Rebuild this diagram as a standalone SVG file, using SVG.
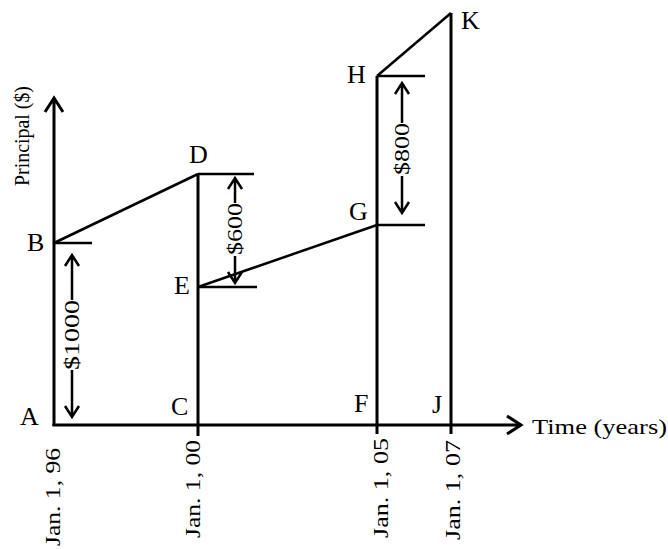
<svg xmlns="http://www.w3.org/2000/svg" width="668" height="549" viewBox="0 0 668 549">
<style>
.ax{stroke:#000;stroke-width:3;fill:none;stroke-linecap:butt}
.ln{stroke:#000;stroke-width:2.5;fill:none}
.ar{stroke:#000;stroke-width:2.5;fill:none}
.lbl{font-size:26px;fill:#000;font-weight:normal}
.t{font-size:22px;fill:#000;font-weight:normal}
</style>
<rect width="668" height="549" fill="#fff"/>
<g font-family="Liberation Serif, Times New Roman, serif">
<g id="axes">
<path class="ax" d="M54 426V98M45 112L54 98L63 112"/>
<path class="ax" d="M52.5 425H521M507 416L521 425L507 434"/>
<text class="t" transform="translate(29,136) rotate(-90)" text-anchor="middle" textLength="100" lengthAdjust="spacingAndGlyphs">Principal ($)</text>
<text class="t" x="532" y="434" textLength="135" lengthAdjust="spacingAndGlyphs">Time (years)</text>
</g>
<g id="connectors">
<path class="ln" d="M54 243H92"/>
<path class="ln" d="M54 243L198 174"/>
<path class="ln" d="M198 174H254"/>
<path class="ax" d="M198 174V436"/>
<path class="ln" d="M198 287H257"/>
<path class="ln" d="M198 287L377 225"/>
<path class="ln" d="M377 225H425"/>
<path class="ax" d="M377 76V434"/>
<path class="ln" d="M377 76H425"/>
<path class="ln" d="M377 76L451 13"/>
<path class="ax" d="M451 13V434"/>
</g>
<g id="dim1000">
<path class="ar" d="M72 256V300M72 370V416M65 266L72 255L79 266M65 406L72 417L79 406"/>
<text class="t" transform="translate(79,335) rotate(-90)" text-anchor="middle" textLength="70" lengthAdjust="spacingAndGlyphs">$1000</text>
</g>
<g id="dim600">
<path class="ar" d="M235 179V203M235 256V282M228 189L235 178L242 189M228 272L235 283L242 272"/>
<text class="t" transform="translate(242,229) rotate(-90)" text-anchor="middle" textLength="52" lengthAdjust="spacingAndGlyphs">$600</text>
</g>
<g id="dim800">
<path class="ar" d="M402 84V123M402 176V212M395 94L402 83L409 94M395 202L402 213L409 202"/>
<text class="t" transform="translate(409,149) rotate(-90)" text-anchor="middle" textLength="52" lengthAdjust="spacingAndGlyphs">$800</text>
</g>
<g id="A"><text class="lbl" x="20" y="425">A</text></g>
<g id="B"><text class="lbl" x="27" y="251">B</text></g>
<g id="C"><text class="lbl" x="171" y="415">C</text></g>
<g id="D"><text class="lbl" x="189" y="163">D</text></g>
<g id="E"><text class="lbl" x="174" y="294">E</text></g>
<g id="F"><text class="lbl" x="354" y="412">F</text></g>
<g id="G"><text class="lbl" x="349" y="220">G</text></g>
<g id="H"><text class="lbl" x="347" y="83">H</text></g>
<g id="J"><text class="lbl" x="432" y="413">J</text></g>
<g id="K"><text class="lbl" x="461" y="29">K</text></g>
<g id="dates">
<text class="t" transform="translate(60,448) rotate(-90)" text-anchor="end" textLength="98" lengthAdjust="spacingAndGlyphs">Jan. 1, 96</text>
<text class="t" transform="translate(200,440) rotate(-90)" text-anchor="end" textLength="98" lengthAdjust="spacingAndGlyphs">Jan. 1, 00</text>
<text class="t" transform="translate(388,438) rotate(-90)" text-anchor="end" textLength="100" lengthAdjust="spacingAndGlyphs">Jan. 1, 05</text>
<text class="t" transform="translate(460,440) rotate(-90)" text-anchor="end" textLength="100" lengthAdjust="spacingAndGlyphs">Jan. 1, 07</text>
</g>
</g>
</svg>
